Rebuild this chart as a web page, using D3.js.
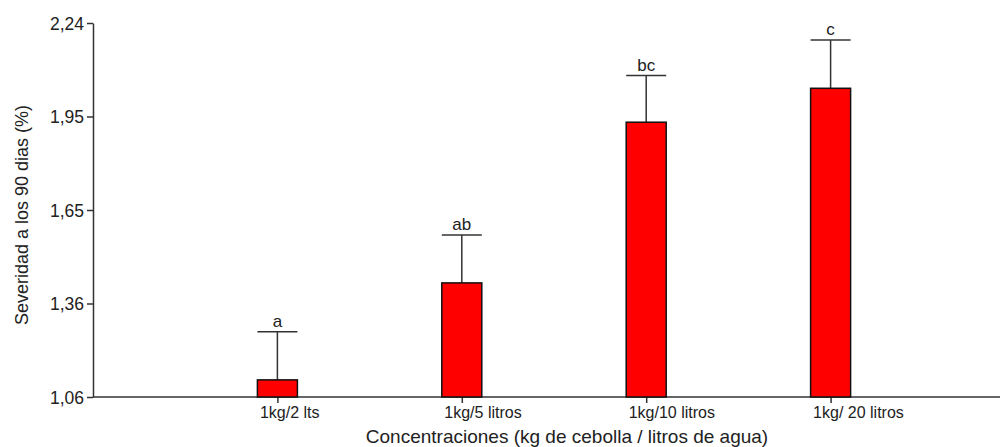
<!DOCTYPE html>
<html><head><meta charset="utf-8">
<script src="https://cdn.jsdelivr.net/npm/d3@7"></script>
<style>body{margin:0;background:#fff}svg text{font-family:"Liberation Sans",Arial,sans-serif;fill:#222}</style>
</head><body><svg id="c" width="1003" height="447"></svg>
<script>
const categories = ["1kg/2 lts","1kg/5 litros","1kg/10 litros","1kg/ 20 litros"];
const means = [1.114, 1.420, 1.927, 2.034];
const errTop = [1.266, 1.571, 2.074, 2.186];
const letters = ["a","ab","bc","c"];
const tickValues = [1.06, 1.355, 1.65, 1.945, 2.24];
const tickLabels = ["1,06","1,36","1,65","1,95","2,24"];

const svg = d3.select("#c");
const x0 = 93, yTop = 23, yBot = 397;
const y = d3.scaleLinear().domain([1.06, 2.24]).range([yBot, yTop]);
const x = d3.scalePoint().domain(categories).range([x0, 1015]).padding(1);
const bw = 40;

// y axis
const ya = svg.append("g").attr("transform", `translate(${x0},0)`)
  .call(d3.axisLeft(y).tickValues(tickValues).tickFormat((d,i)=>tickLabels[i]).tickSize(6).tickSizeOuter(0));
ya.select(".domain").attr("stroke","#333").attr("stroke-width",1.5);
ya.selectAll(".tick line").attr("stroke","#333").attr("stroke-width",1.5);
ya.selectAll("text").attr("font-size",17.5).attr("x",-9).attr("dy","0.35em");

// x axis
const xa = svg.append("g").attr("transform", `translate(0,${yBot})`)
  .call(d3.axisBottom(x).tickSize(6).tickSizeOuter(0));
xa.select(".domain").remove();
svg.append("line").attr("x1",x0).attr("x2",1000).attr("y1",yBot).attr("y2",yBot).attr("stroke","#333").attr("stroke-width",1.5);
xa.selectAll(".tick line").attr("stroke","#333").attr("stroke-width",1.5);
xa.selectAll("text").attr("font-size",16).attr("x",-18).attr("y",10).attr("dy","0.71em").attr("text-anchor","start");

const g = svg.append("g");
categories.forEach((c,i)=>{
  const cx = x(c);
  g.append("line").attr("x1",cx).attr("x2",cx).attr("y1",y(means[i])).attr("y2",y(errTop[i])).attr("stroke","#333").attr("stroke-width",1.5);
  g.append("line").attr("x1",cx-20).attr("x2",cx+20).attr("y1",y(errTop[i])).attr("y2",y(errTop[i])).attr("stroke","#333").attr("stroke-width",1.5);
  g.append("rect").attr("x",cx-bw/2).attr("y",y(means[i])).attr("width",bw).attr("height",yBot-y(means[i]))
    .attr("fill","#ff0000").attr("stroke","#111").attr("stroke-width",1.5);
  g.append("text").attr("x",cx).attr("y",y(errTop[i])-5).attr("text-anchor","middle").attr("font-size",17).text(letters[i]);
});

svg.append("text").attr("x",567).attr("y",443).attr("text-anchor","middle").attr("font-size",19)
  .text("Concentraciones (kg de cebolla / litros de agua)");
svg.append("text").attr("transform","translate(28,215) rotate(-90)").attr("text-anchor","middle").attr("font-size",18)
  .text("Severidad a los 90 dias (%)");
</script></body></html>
